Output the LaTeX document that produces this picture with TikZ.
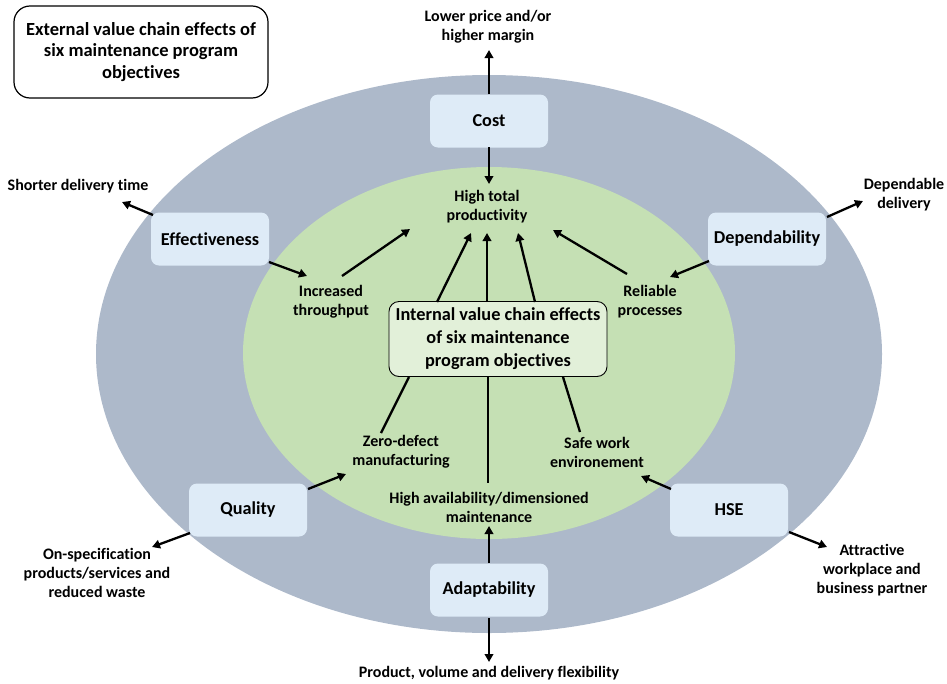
\documentclass[tikz,border=0pt]{standalone}
\usepackage{fontspec}
\setmainfont[Ligatures=NoCommon]{Carlito}
\usetikzlibrary{arrows.meta,calc}

\definecolor{outerring}{HTML}{ADB9CA}
\definecolor{innerring}{HTML}{C5E0B4}
\definecolor{objfill}{HTML}{DEEBF7}
\definecolor{corefill}{HTML}{E2F0D9}

\begin{document}
\begin{tikzpicture}[x=1pt,y=-1pt,
  objective/.style={fill=objfill, rounded corners=8pt, minimum width=118pt,
    minimum height=53pt, inner sep=0pt,
    font=\fontsize{18.2}{22}\selectfont\bfseries},
  effect/.style={align=center, inner sep=0pt,
    font=\fontsize{16}{19}\selectfont\bfseries},
  heading/.style={draw=black, align=center, inner sep=0pt},
  link/.style={line width=2.3pt, -{Triangle[length=8pt,width=8.5pt]}},
  plainlink/.style={line width=2.3pt}]

% canvas
\useasboundingbox (0,0) rectangle (947,683);

% the two rings
\fill[outerring] (489,354) ellipse [x radius=393, y radius=279];
\fill[innerring] (489,353) ellipse [x radius=246, y radius=186];

% title box
\node[heading, rounded corners=16pt, line width=1.2pt, fill=white,
      minimum width=254pt, minimum height=92pt,
      font=\fontsize{18.5}{21.7}\selectfont\bfseries] (title) at (141,52)
  {External value chain effects of\\six maintenance program\\objectives};

% central box
\node[heading, rounded corners=10pt, line width=0.9pt, fill=corefill,
      minimum width=218pt, minimum height=75pt,
      font=\fontsize{18.3}{23}\selectfont\bfseries] (core) at (498,339)
  {Internal value chain effects\\of six maintenance\\program objectives};

% the six objectives
\node[objective] (cost)  at (489,121) {Cost};
\node[objective] (eff)   at (210,239) {Effectiveness};
\node[objective] (dep)   at (767,239) {Dependability};
\node[objective] (qual)  at (248,510) {Quality};
\node[objective] (hse)   at (729,510) {HSE};
\node[objective] (adapt) at (489,590) {Adaptability};

% internal effects
\node[effect] (prod)  at (487,207) {High total\\productivity};
\node[effect] (thr)   at (331,302) {Increased\\throughput};
\node[effect] (rel)   at (650,302) {Reliable\\processes};
\node[effect] (zero)  at (401,452) {Zero-defect\\manufacturing};
\node[effect] (safe)  at (597,452) {Safe work\\environement};
\node[effect] (avail) at (489,507) {High availability/dimensioned\\maintenance};

% external effects
\node[effect] (lower) at (488,27)  {Lower price and/or\\higher margin};
\node[effect] (sdt)   at (78,186)  {Shorter delivery time};
\node[effect] (ddel)  at (904,195) {Dependable\\delivery};
\node[effect] (spec)  at (97,573)  {On-specification\\products/services and\\reduced waste};
\node[effect] (attr)  at (872,570) {Attractive\\workplace and\\business partner};
\node[effect] (flex)  at (489,673) {Product, volume and delivery flexibility};

% cost
\draw[link] ($(cost)+(0,-27)$) -- ($(lower)+(1,23)$);
\draw[link] ($(cost)+(0,26)$)  -- ($(prod)+(2,-23)$);

% effectiveness
\draw[link] ($(eff)+(-57,-24)$) -- ($(sdt)+(44,16)$);
\draw[link] ($(eff)+(59,23)$)   -- ($(thr)+(-24,-26)$);
\draw[link] ($(thr)+(11,-26)$)  -- ($(prod)+(-77,22)$);

% dependability
\draw[link] ($(dep)+(60,-22)$) -- ($(ddel)+(-41,6)$);
\draw[link] ($(dep)+(-58,22)$) -- ($(rel)+(20,-25)$);
\draw[link] ($(rel)+(-23,-28)$) -- ($(prod)+(66,23)$);

% central box to total productivity
\draw[link] ($(core)+(-61,-37)$) -- ($(prod)+(-16,26)$);
\draw[link] ($(core)+(-11,-37)$) -- ($(prod)+(0,26)$);
\draw[link] ($(core)+(37,-37)$)  -- ($(prod)+(31,26)$);

% central box to the lower internal effects
\draw[plainlink] ($(core)+(-89,38)$) -- ($(zero)+(-20,-19)$);
\draw[plainlink] ($(core)+(-10,38)$) -- ($(avail)+(-1,-24)$);
\draw[plainlink] ($(core)+(65,38)$)  -- ($(safe)+(-17,-20)$);

% quality
\draw[link] ($(qual)+(60,-21)$) -- ($(zero)+(-55,22)$);
\draw[link] ($(qual)+(-58,23)$) -- ($(spec)+(55,-26)$);

% adaptability
\draw[link] ($(adapt)+(0,-27)$) -- ($(avail)+(0,19)$);
\draw[link] ($(adapt)+(0,28)$)  -- ($(flex)+(0,-11)$);

% HSE
\draw[link] ($(hse)+(-58,-21)$) -- ($(safe)+(44,24)$);
\draw[link] ($(hse)+(60,22)$)   -- ($(attr)+(-45,-23)$);

\end{tikzpicture}
\end{document}
